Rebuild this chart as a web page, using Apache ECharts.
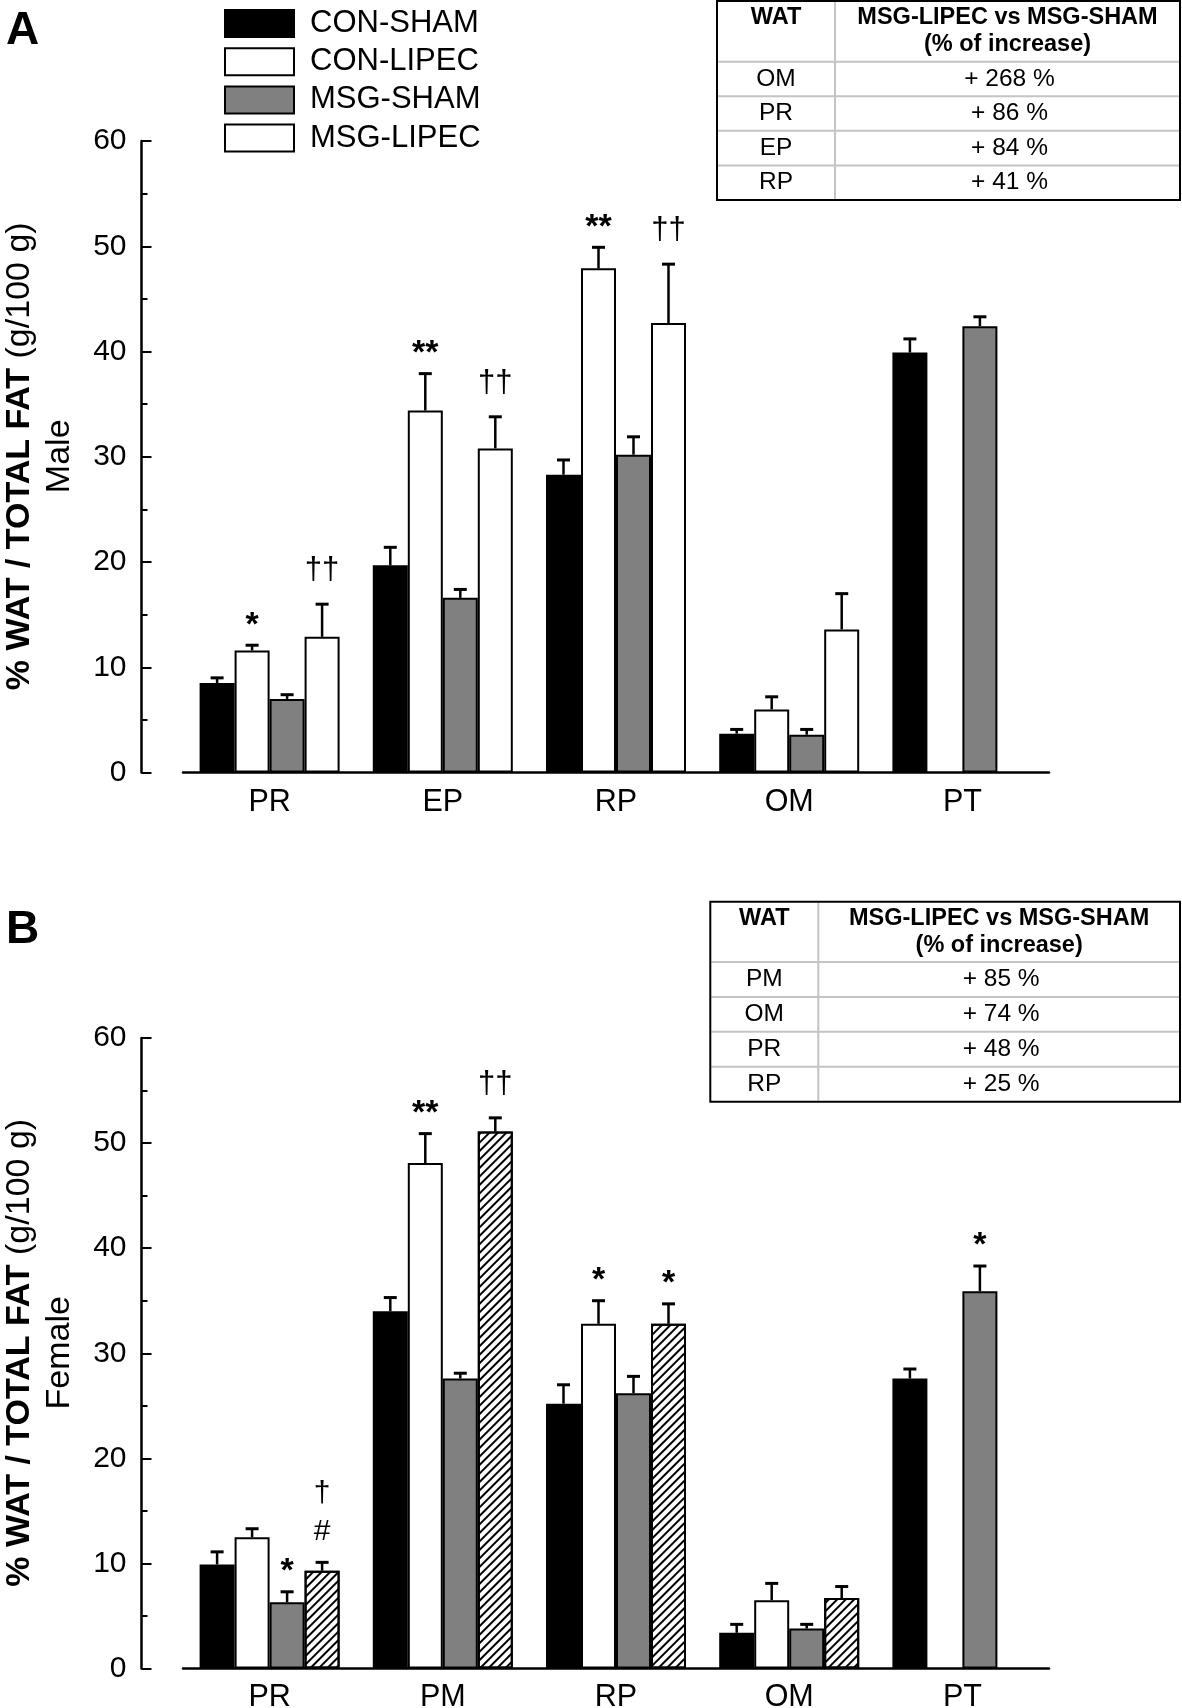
<!DOCTYPE html>
<html><head><meta charset="utf-8">
<script src="https://cdn.jsdelivr.net/npm/echarts@6/dist/echarts.min.js"></script>
<style>html,body{margin:0;padding:0;background:#fff}#c{width:1182px;height:1708px}</style>
</head><body><div id="c"></div>
<script>
// ---------------- DATA ----------------
const seriesNames = ['CON-SHAM', 'CON-LIPEC', 'MSG-SHAM', 'MSG-LIPEC'];
const yTicks = [0, 60, 10];               // min, max, interval

// Panel A (Male)
const categoriesA = ['PR', 'EP', 'RP', 'OM', 'PT'];
const conShamA    = [8.5, 19.7, 28.3, 3.7, 39.9];
const conLipecA   = [11.6, 34.4, 47.9, 6.0, null];
const msgShamA    = [7.0, 16.6, 30.2, 3.6, 42.4];
const msgLipecA   = [12.9, 30.8, 42.7, 13.6, null];
const conShamSemA  = [0.5, 1.7, 1.4, 0.4, 1.3];
const conLipecSemA = [0.5, 3.5, 2.0, 1.2, null];
const msgShamSemA  = [0.4, 0.8, 1.7, 0.5, 0.9];
const msgLipecSemA = [3.1, 3.0, 5.6, 3.4, null];
const conShamSigA  = ['', '', '', '', ''];
const conLipecSigA = ['*', '**', '**', '', ''];
const msgShamSigA  = ['', '', '', '', ''];
const msgLipecSigA = ['††', '††', '††', '', ''];
const tableA_wat = ['OM', 'PR', 'EP', 'RP'];
const tableA_inc = ['+ 268 %', '+ 86 %', '+ 84 %', '+ 41 %'];

// Panel B (Female)
const categoriesB = ['PR', 'PM', 'RP', 'OM', 'PT'];
const conShamB    = [9.9, 34.0, 25.2, 3.4, 27.6];
const conLipecB   = [12.5, 48.1, 32.8, 6.5, null];
const msgShamB    = [6.3, 27.6, 26.2, 3.8, 35.9];
const msgLipecB   = [9.3, 51.1, 32.8, 6.7, null];
const conShamSemB  = [1.2, 1.3, 1.8, 0.8, 0.9];
const conLipecSemB = [0.8, 2.8, 2.2, 1.6, null];
const msgShamSemB  = [1.0, 0.5, 1.6, 0.4, 2.4];
const msgLipecSemB = [0.8, 1.3, 1.9, 1.1, null];
const conShamSigB  = ['', '', '', '', ''];
const conLipecSigB = ['', '**', '*', '', ''];
const msgShamSigB  = ['*', '', '', '', '*'];
const msgLipecSigB = ['†\n#', '††', '*', '', ''];
const tableB_wat = ['PM', 'OM', 'PR', 'RP'];
const tableB_inc = ['+ 85 %', '+ 74 %', '+ 48 %', '+ 25 %'];

const tableHeader = ['WAT', 'MSG-LIPEC vs MSG-SHAM', '(% of increase)'];
const yTitleMain = ['% WAT / TOTAL FAT', '(g/100 g)'];
const yTitleSub = ['Male', 'Female'];
const panelLetters = ['A', 'B'];

// ---------------- STYLE / LAYOUT ----------------
const FF = '"Liberation Sans", Arial, sans-serif';
const fills = ['#000000', '#ffffff', '#808080', '#ffffff'];
const BAR_W = 35;
const hatch = { symbol: 'rect', symbolSize: 1, color: '#000', dashArrayX: [1, 0], dashArrayY: [1.5, 3.5], rotation: -Math.PI / 4 };

const panels = [
  { cats: categoriesA, means: [conShamA, conLipecA, msgShamA, msgLipecA],
    sems: [conShamSemA, conLipecSemA, msgShamSemA, msgLipecSemA],
    sigs: [conShamSigA, conLipecSigA, msgShamSigA, msgLipecSigA], hatched: false,
    grid: { left: 183, top: 141, width: 866, height: 631.6 } },
  { cats: categoriesB, means: [conShamB, conLipecB, msgShamB, msgLipecB],
    sems: [conShamSemB, conLipecSemB, msgShamSemB, msgLipecSemB],
    sigs: [conShamSigB, conLipecSigB, msgShamSigB, msgLipecSigB], hatched: true,
    grid: { left: 183, top: 1038, width: 866, height: 630.5 } }
];

const grids = [], xAxes = [], yAxes = [], series = [];
panels.forEach((p, pi) => {
  grids.push(Object.assign({ outerBoundsMode: 'none', containLabel: false }, p.grid));
  xAxes.push({
    type: 'category', gridIndex: pi, data: p.cats,
    axisLine: { show: true, lineStyle: { color: '#000', width: 2.5 } },
    axisTick: { show: false },
    axisLabel: { fontSize: 30.5, color: '#000', fontFamily: FF, margin: 14 },
    splitLine: { show: false }
  });
  yAxes.push({
    type: 'value', gridIndex: pi, min: yTicks[0], max: yTicks[1], interval: yTicks[2],
    offset: 41.5,
    axisLine: { show: true, lineStyle: { color: '#000', width: 2.5 } },
    axisTick: { show: true, inside: true, length: 10, lineStyle: { color: '#000', width: 2 } },
    minorTick: { show: true, splitNumber: 2, length: 6, lineStyle: { color: '#000', width: 2 } },
    splitLine: { show: false }, minorSplitLine: { show: false },
    axisLabel: { fontSize: 30, color: '#000', fontFamily: FF, margin: 15 }
  });
  for (let k = 0; k < 4; k++) {
    const itemStyle = { color: fills[k], borderColor: '#000', borderWidth: 2 };
    if (p.hatched && k === 3) itemStyle.decal = hatch;
    series.push({
      name: seriesNames[k], type: 'bar', xAxisIndex: pi, yAxisIndex: pi,
      data: p.means[k], barWidth: BAR_W, barGap: '0%', itemStyle: itemStyle,
      silent: true, animation: false, z: 2
    });
  }
  for (let k = 0; k < 4; k++) {
    const data = [];
    p.means[k].forEach((m, i) => { if (m != null) data.push([i, m, p.sems[k][i]]); });
    const sig = p.sigs[k];
    series.push({
      name: 'err-' + pi + '-' + k, type: 'custom', xAxisIndex: pi, yAxisIndex: pi,
      data: data, encode: { x: 0, y: 1 }, silent: true, animation: false, z: 5,
      renderItem: function (params, api) {
        const i = api.value(0), m = api.value(1), s = api.value(2);
        const base = api.coord([i, m]);
        const top = api.coord([i, m + s]);
        const x = base[0] + (k - 1.5) * BAR_W;
        const children = [
          { type: 'line', shape: { x1: x, y1: base[1], x2: x, y2: top[1] }, style: { stroke: '#000', lineWidth: 2.5 } },
          { type: 'line', shape: { x1: x - 6.5, y1: top[1], x2: x + 6.5, y2: top[1] }, style: { stroke: '#000', lineWidth: 3 } }
        ];
        const t = sig[i];
        if (t) {
          let font, dy, lh = null;
          if (t.indexOf('#') >= 0) { font = '30px ' + FF; dy = 12; lh = 38; }
          else if (t.indexOf('†') >= 0) { font = '31px ' + FF; dy = 18; }
          else { font = 'bold 34px ' + FF; dy = 3; }
          const st = { text: t, x: x, y: top[1] - dy, font: font, fill: '#000', textAlign: 'center', textVerticalAlign: 'bottom' };
          if (lh) st.lineHeight = lh;
          children.push({ type: 'text', style: st });
        }
        return { type: 'group', children: children };
      }
    });
  }
});

// ---------------- GRAPHIC: tables, titles, letters ----------------
const graphic = [];
function addTable(g, wat, inc) {
  const rowH = (g.b - g.hb) / 4;
  graphic.push({ type: 'rect', shape: { x: g.l, y: g.t, width: g.r - g.l, height: g.b - g.t }, style: { fill: 'none', stroke: '#000', lineWidth: 2 }, z: 10 });
  graphic.push({ type: 'line', shape: { x1: g.div, y1: g.t + 1, x2: g.div, y2: g.b - 1 }, style: { stroke: '#c4c4c4', lineWidth: 2 }, z: 9 });
  for (let j = 0; j < 4; j++) {
    const y = g.hb + rowH * j;
    graphic.push({ type: 'line', shape: { x1: g.l + 1, y1: y, x2: g.r - 1, y2: y }, style: { stroke: '#c4c4c4', lineWidth: 2 }, z: 9 });
  }
  const c1 = (g.l + g.div) / 2, c2 = (g.div + g.r) / 2;
  const hf = 'bold 23.5px ' + FF, bf = '24.5px ' + FF;
  graphic.push({ type: 'text', style: { text: tableHeader[0], x: c1, y: g.t + 16.5, font: hf, fill: '#000', textAlign: 'center', textVerticalAlign: 'middle' }, z: 11 });
  graphic.push({ type: 'text', style: { text: tableHeader[1], x: c2, y: g.t + 16.5, font: hf, fill: '#000', textAlign: 'center', textVerticalAlign: 'middle' }, z: 11 });
  graphic.push({ type: 'text', style: { text: tableHeader[2], x: c2, y: g.t + 44, font: hf, fill: '#000', textAlign: 'center', textVerticalAlign: 'middle' }, z: 11 });
  for (let j = 0; j < 4; j++) {
    const y = g.hb + rowH * (j + 0.5);
    graphic.push({ type: 'text', style: { text: wat[j], x: c1, y: y, font: bf, fill: '#000', textAlign: 'center', textVerticalAlign: 'middle' }, z: 11 });
    graphic.push({ type: 'text', style: { text: inc[j], x: c2 + 2, y: y, font: bf, fill: '#000', textAlign: 'center', textVerticalAlign: 'middle' }, z: 11 });
  }
}
addTable({ l: 717, t: 1, r: 1180, b: 200, div: 835, hb: 61.7 }, tableA_wat, tableA_inc);
addTable({ l: 710.3, t: 901.7, r: 1180, b: 1101.7, div: 818.3, hb: 962 }, tableB_wat, tableB_inc);

const titleCenters = [456.3, 1352.8];
titleCenters.forEach((cy, pi) => {
  graphic.push({
    type: 'text', x: 20, y: cy, rotation: Math.PI / 2,
    style: {
      text: '{b|' + yTitleMain[0] + '}{n| ' + yTitleMain[1] + '}',
      textAlign: 'center', textVerticalAlign: 'middle', fill: '#000',
      rich: {
        b: { font: 'bold 34px ' + FF, fill: '#000' },
        n: { font: '34px ' + FF, fill: '#000' }
      }
    }, z: 11
  });
  graphic.push({
    type: 'text', x: 60, y: cy, rotation: Math.PI / 2,
    style: { text: yTitleSub[pi], font: '34px ' + FF, fill: '#000', textAlign: 'center', textVerticalAlign: 'middle' }, z: 11
  });
  graphic.push({
    type: 'text', x: 6, y: pi === 0 ? 31 : 930,
    style: { text: panelLetters[pi], font: 'bold 46px ' + FF, fill: '#000', textAlign: 'left', textVerticalAlign: 'middle' }, z: 11
  });
});

const option = {
  backgroundColor: '#fff',
  animation: false,
  legend: {
    data: seriesNames, orient: 'vertical', left: 224, top: 8, padding: 0,
    itemWidth: 69, itemHeight: 27, itemGap: 7.2, icon: 'rect', selectedMode: false,
    itemStyle: { borderColor: '#000', borderWidth: 2 },
    textStyle: { fontSize: 31, color: '#000', fontFamily: FF, padding: [0, 0, 0, 11] }
  },
  grid: grids, xAxis: xAxes, yAxis: yAxes, series: series, graphic: graphic
};
const chart = echarts.init(document.getElementById('c'), null, { renderer: 'canvas' });
chart.setOption(option);
</script>
</body></html>
